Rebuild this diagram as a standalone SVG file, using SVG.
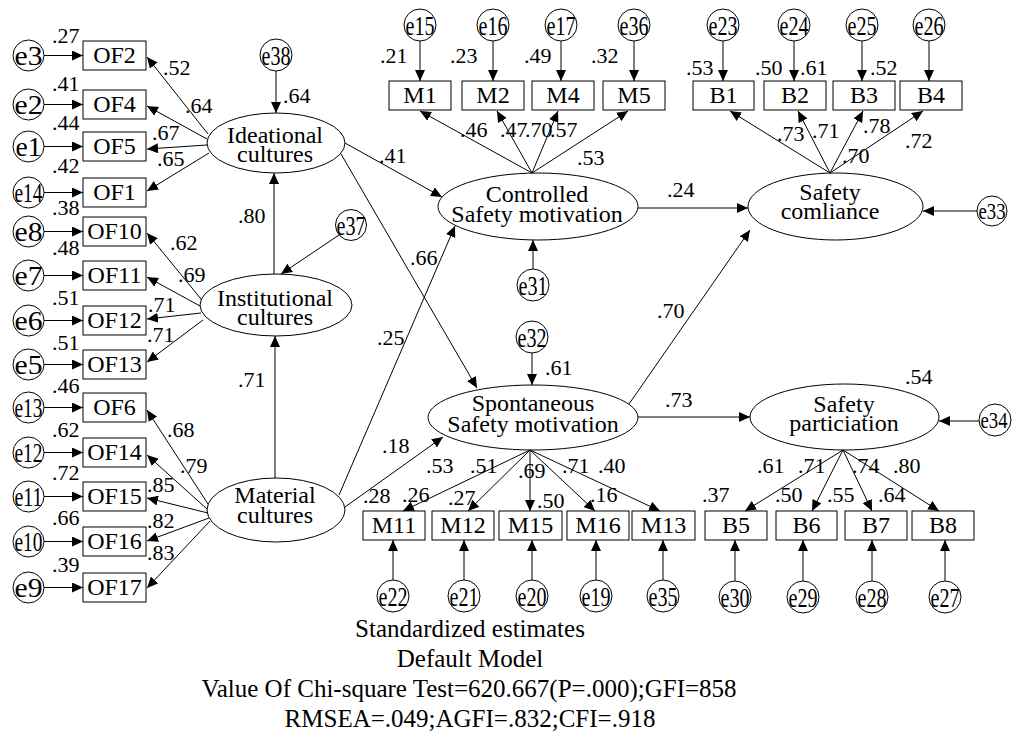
<svg xmlns="http://www.w3.org/2000/svg" width="1013" height="733" viewBox="0 0 1013 733" font-family="'Liberation Serif', 'Times New Roman', serif">
<style>
  .shape { fill: #fff; stroke: #000; stroke-width: 1; }
  .ln { fill: none; stroke: #000; stroke-width: 1; marker-end: url(#ah); }
  text { font-family: "Liberation Serif", "Times New Roman", serif; fill: #000; }
  .v { font-family: "Liberation Serif", "Times New Roman", serif; font-size: 24px; text-anchor: middle; }
  .e { font-family: "Liberation Serif", "Times New Roman", serif; font-size: 27px; text-anchor: middle; }
  .es { font-size: 23px; }
  .n text { font-family: "Liberation Serif", "Times New Roman", serif; font-size: 22px; }
  .cap { font-family: "Liberation Serif", "Times New Roman", serif; font-size: 25px; text-anchor: middle; }
</style>
<defs>
  <marker id="ah" markerWidth="11" markerHeight="10" refX="11" refY="5" orient="auto" markerUnits="userSpaceOnUse">
    <path d="M0,0 L11,5 L0,10 Z" fill="#000"/>
  </marker>
</defs>
<rect width="1013" height="733" fill="#fff"/>

<!-- latent variables -->
<g id="ideational"><ellipse class="shape" cx="276" cy="143" rx="69" ry="30"/><text class="v" x="275" y="143">Ideational</text><text class="v" x="275" y="162">cultures</text></g>
<g id="institutional"><ellipse class="shape" cx="276" cy="305" rx="76" ry="31"/><text class="v" x="275" y="306">Institutional</text><text class="v" x="275" y="325">cultures</text></g>
<g id="material"><ellipse class="shape" cx="276" cy="510" rx="69" ry="32"/><text class="v" x="275" y="503">Material</text><text class="v" x="275" y="523">cultures</text></g>
<g id="controlled"><ellipse class="shape" cx="538" cy="206.5" rx="100" ry="33.5"/><text class="v" x="537" y="202">Controlled</text><text class="v" x="537" y="222">Safety motivation</text></g>
<g id="spontaneous"><ellipse class="shape" cx="533" cy="417.5" rx="105" ry="32.5"/><text class="v" x="533" y="411">Spontaneous</text><text class="v" x="533" y="432">Safety motivation</text></g>
<g id="compliance"><ellipse class="shape" cx="835.5" cy="206.5" rx="87.5" ry="33.5"/><text class="v" x="830" y="200">Safety</text><text class="v" x="830" y="219">comliance</text></g>
<g id="participation"><ellipse class="shape" cx="844.5" cy="417" rx="94.5" ry="33"/><text class="v" x="844" y="412">Safety</text><text class="v" x="844" y="431">particiation</text></g>

<!-- observed indicators, left column -->
<g id="OF2"><rect class="shape" x="83" y="41" width="63" height="29"/><text class="v" x="114.5" y="63">OF2</text></g>
<g id="OF4"><rect class="shape" x="83" y="90" width="63" height="29"/><text class="v" x="114.5" y="112">OF4</text></g>
<g id="OF5"><rect class="shape" x="83" y="132" width="63" height="29"/><text class="v" x="114.5" y="154">OF5</text></g>
<g id="OF1"><rect class="shape" x="83" y="178" width="63" height="29"/><text class="v" x="114.5" y="200">OF1</text></g>
<g id="OF10"><rect class="shape" x="83" y="217" width="63" height="29"/><text class="v" x="114.5" y="239">OF10</text></g>
<g id="OF11"><rect class="shape" x="83" y="261" width="63" height="29"/><text class="v" x="114.5" y="283">OF11</text></g>
<g id="OF12"><rect class="shape" x="83" y="306" width="63" height="29"/><text class="v" x="114.5" y="328">OF12</text></g>
<g id="OF13"><rect class="shape" x="83" y="350" width="63" height="29"/><text class="v" x="114.5" y="372">OF13</text></g>
<g id="OF6"><rect class="shape" x="83" y="393" width="63" height="29"/><text class="v" x="114.5" y="415">OF6</text></g>
<g id="OF14"><rect class="shape" x="83" y="438" width="63" height="29"/><text class="v" x="114.5" y="460">OF14</text></g>
<g id="OF15"><rect class="shape" x="83" y="482" width="63" height="29"/><text class="v" x="114.5" y="504">OF15</text></g>
<g id="OF16"><rect class="shape" x="83" y="527" width="63" height="29"/><text class="v" x="114.5" y="549">OF16</text></g>
<g id="OF17"><rect class="shape" x="83" y="573" width="63" height="29"/><text class="v" x="114.5" y="595">OF17</text></g>

<!-- observed indicators, motivation -->
<g id="M1"><rect class="shape" x="389" y="81" width="62" height="29"/><text class="v" x="420" y="103">M1</text></g>
<g id="M2"><rect class="shape" x="462" y="81" width="62" height="29"/><text class="v" x="493" y="103">M2</text></g>
<g id="M4"><rect class="shape" x="532" y="81" width="62" height="29"/><text class="v" x="563" y="103">M4</text></g>
<g id="M5"><rect class="shape" x="603" y="81" width="62" height="29"/><text class="v" x="634" y="103">M5</text></g>
<g id="M11"><rect class="shape" x="363" y="511" width="62" height="29"/><text class="v" x="394" y="533">M11</text></g>
<g id="M12"><rect class="shape" x="432" y="511" width="62" height="29"/><text class="v" x="463" y="533">M12</text></g>
<g id="M15"><rect class="shape" x="499" y="511" width="63" height="29"/><text class="v" x="530.5" y="533">M15</text></g>
<g id="M16"><rect class="shape" x="567" y="511" width="62" height="29"/><text class="v" x="598" y="533">M16</text></g>
<g id="M13"><rect class="shape" x="632" y="511" width="63" height="29"/><text class="v" x="663.5" y="533">M13</text></g>

<!-- observed indicators, behaviour -->
<g id="B1"><rect class="shape" x="693" y="81" width="61" height="29"/><text class="v" x="723.5" y="103">B1</text></g>
<g id="B2"><rect class="shape" x="764" y="81" width="62" height="29"/><text class="v" x="795" y="103">B2</text></g>
<g id="B3"><rect class="shape" x="833" y="81" width="62" height="29"/><text class="v" x="864" y="103">B3</text></g>
<g id="B4"><rect class="shape" x="900" y="81" width="62" height="29"/><text class="v" x="931" y="103">B4</text></g>
<g id="B5"><rect class="shape" x="705" y="511" width="62" height="29"/><text class="v" x="736" y="533">B5</text></g>
<g id="B6"><rect class="shape" x="776" y="511" width="61" height="29"/><text class="v" x="806.5" y="533">B6</text></g>
<g id="B7"><rect class="shape" x="845" y="511" width="62" height="29"/><text class="v" x="876" y="533">B7</text></g>
<g id="B8"><rect class="shape" x="912" y="511" width="62" height="29"/><text class="v" x="943" y="533">B8</text></g>

<!-- error terms -->
<g id="e3"><circle class="shape" cx="28.5" cy="55.5" r="15.5"/><text class="e" x="28.5" y="65" textLength="28" lengthAdjust="spacingAndGlyphs">e3</text></g>
<g id="e2"><circle class="shape" cx="28.5" cy="104.5" r="15.5"/><text class="e" x="28.5" y="114" textLength="28" lengthAdjust="spacingAndGlyphs">e2</text></g>
<g id="e1"><circle class="shape" cx="28.5" cy="146.5" r="15.5"/><text class="e" x="28.5" y="156" textLength="26" lengthAdjust="spacingAndGlyphs">e1</text></g>
<g id="e14"><circle class="shape" cx="28.5" cy="192.5" r="15.5"/><text class="e" x="28.5" y="202" textLength="28" lengthAdjust="spacingAndGlyphs">e14</text></g>
<g id="e8"><circle class="shape" cx="28.5" cy="231.5" r="15.5"/><text class="e" x="28.5" y="241" textLength="28" lengthAdjust="spacingAndGlyphs">e8</text></g>
<g id="e7"><circle class="shape" cx="28.5" cy="275.5" r="15.5"/><text class="e" x="28.5" y="285" textLength="28" lengthAdjust="spacingAndGlyphs">e7</text></g>
<g id="e6"><circle class="shape" cx="28.5" cy="320.5" r="15.5"/><text class="e" x="28.5" y="330" textLength="28" lengthAdjust="spacingAndGlyphs">e6</text></g>
<g id="e5"><circle class="shape" cx="28.5" cy="364.5" r="15.5"/><text class="e" x="28.5" y="374" textLength="28" lengthAdjust="spacingAndGlyphs">e5</text></g>
<g id="e13"><circle class="shape" cx="28.5" cy="407.5" r="15.5"/><text class="e" x="28.5" y="417" textLength="28" lengthAdjust="spacingAndGlyphs">e13</text></g>
<g id="e12"><circle class="shape" cx="28.5" cy="452.5" r="15.5"/><text class="e" x="28.5" y="462" textLength="28" lengthAdjust="spacingAndGlyphs">e12</text></g>
<g id="e11"><circle class="shape" cx="28.5" cy="496.5" r="15.5"/><text class="e" x="28.5" y="506" textLength="28" lengthAdjust="spacingAndGlyphs">e11</text></g>
<g id="e10"><circle class="shape" cx="28.5" cy="541.5" r="15.5"/><text class="e" x="28.5" y="551" textLength="28" lengthAdjust="spacingAndGlyphs">e10</text></g>
<g id="e9"><circle class="shape" cx="28.5" cy="587.5" r="15.5"/><text class="e" x="28.5" y="597" textLength="28" lengthAdjust="spacingAndGlyphs">e9</text></g>
<g id="e38"><circle class="shape" cx="276" cy="55" r="16"/><text class="e" x="276" y="65" textLength="29" lengthAdjust="spacingAndGlyphs">e38</text></g>
<g id="e37"><circle class="shape" cx="351" cy="225" r="15.5"/><text class="e" x="351" y="235" textLength="29" lengthAdjust="spacingAndGlyphs">e37</text></g>
<g id="e15"><circle class="shape" cx="420" cy="25" r="16"/><text class="e" x="420" y="35" textLength="29" lengthAdjust="spacingAndGlyphs">e15</text></g>
<g id="e16"><circle class="shape" cx="493" cy="25" r="16"/><text class="e" x="493" y="35" textLength="29" lengthAdjust="spacingAndGlyphs">e16</text></g>
<g id="e17"><circle class="shape" cx="561" cy="25" r="16"/><text class="e" x="561" y="35" textLength="29" lengthAdjust="spacingAndGlyphs">e17</text></g>
<g id="e36"><circle class="shape" cx="634" cy="25" r="16"/><text class="e" x="634" y="35" textLength="29" lengthAdjust="spacingAndGlyphs">e36</text></g>
<g id="e23"><circle class="shape" cx="723" cy="25" r="16"/><text class="e" x="723" y="35" textLength="29" lengthAdjust="spacingAndGlyphs">e23</text></g>
<g id="e24"><circle class="shape" cx="794" cy="25" r="16"/><text class="e" x="794" y="35" textLength="29" lengthAdjust="spacingAndGlyphs">e24</text></g>
<g id="e25"><circle class="shape" cx="862" cy="25" r="16"/><text class="e" x="862" y="35" textLength="29" lengthAdjust="spacingAndGlyphs">e25</text></g>
<g id="e26"><circle class="shape" cx="929" cy="25" r="16"/><text class="e" x="929" y="35" textLength="29" lengthAdjust="spacingAndGlyphs">e26</text></g>
<g id="e31"><circle class="shape" cx="533" cy="285" r="16"/><text class="e" x="533" y="295" textLength="29" lengthAdjust="spacingAndGlyphs">e31</text></g>
<g id="e32"><circle class="shape" cx="532" cy="337" r="16"/><text class="e" x="532" y="347" textLength="29" lengthAdjust="spacingAndGlyphs">e32</text></g>
<g id="e33"><circle class="shape" cx="992" cy="211" r="15"/><text class="e es" x="992" y="219" textLength="27" lengthAdjust="spacingAndGlyphs">e33</text></g>
<g id="e34"><circle class="shape" cx="995" cy="420" r="16"/><text class="e es" x="994" y="428" textLength="27" lengthAdjust="spacingAndGlyphs">e34</text></g>
<g id="e22"><circle class="shape" cx="393" cy="596" r="16"/><text class="e" x="393" y="606" textLength="29" lengthAdjust="spacingAndGlyphs">e22</text></g>
<g id="e21"><circle class="shape" cx="464" cy="596" r="16"/><text class="e" x="464" y="606" textLength="29" lengthAdjust="spacingAndGlyphs">e21</text></g>
<g id="e20"><circle class="shape" cx="532" cy="596" r="16"/><text class="e" x="532" y="606" textLength="29" lengthAdjust="spacingAndGlyphs">e20</text></g>
<g id="e19"><circle class="shape" cx="596" cy="596" r="16"/><text class="e" x="596" y="606" textLength="29" lengthAdjust="spacingAndGlyphs">e19</text></g>
<g id="e35"><circle class="shape" cx="663" cy="596" r="16"/><text class="e" x="663" y="606" textLength="29" lengthAdjust="spacingAndGlyphs">e35</text></g>
<g id="e30"><circle class="shape" cx="735" cy="597" r="16"/><text class="e" x="735" y="607" textLength="29" lengthAdjust="spacingAndGlyphs">e30</text></g>
<g id="e29"><circle class="shape" cx="803" cy="597" r="16"/><text class="e" x="803" y="607" textLength="29" lengthAdjust="spacingAndGlyphs">e29</text></g>
<g id="e28"><circle class="shape" cx="872" cy="597" r="16"/><text class="e" x="872" y="607" textLength="29" lengthAdjust="spacingAndGlyphs">e28</text></g>
<g id="e27"><circle class="shape" cx="945" cy="597" r="16"/><text class="e" x="945" y="607" textLength="29" lengthAdjust="spacingAndGlyphs">e27</text></g>

<!-- paths -->
<g id="connectors">
  <!-- errors into left indicators -->
  <path class="ln" d="M44,55.5 H83"/>
  <path class="ln" d="M44,104.5 H83"/>
  <path class="ln" d="M44,146.5 H83"/>
  <path class="ln" d="M44,192.5 H83"/>
  <path class="ln" d="M44,231.5 H83"/>
  <path class="ln" d="M44,275.5 H83"/>
  <path class="ln" d="M44,320.5 H83"/>
  <path class="ln" d="M44,364.5 H83"/>
  <path class="ln" d="M44,407.5 H83"/>
  <path class="ln" d="M44,452.5 H83"/>
  <path class="ln" d="M44,496.5 H83"/>
  <path class="ln" d="M44,541.5 H83"/>
  <path class="ln" d="M44,587.5 H83"/>
  <!-- ideational loadings -->
  <path class="ln" d="M208,134 L147,57"/>
  <path class="ln" d="M207,139 L147,106"/>
  <path class="ln" d="M207,145 L147,149"/>
  <path class="ln" d="M209,153 L147,191"/>
  <!-- institutional loadings -->
  <path class="ln" d="M201,299 L147,233"/>
  <path class="ln" d="M200,306 L147,277"/>
  <path class="ln" d="M201,313 L147,319"/>
  <path class="ln" d="M203,320 L147,362"/>
  <!-- material loadings -->
  <path class="ln" d="M208,504 L147,410"/>
  <path class="ln" d="M207,509 L147,455"/>
  <path class="ln" d="M208,513 L147,498"/>
  <path class="ln" d="M209,518 L147,541"/>
  <path class="ln" d="M210,521 L147,588"/>
  <!-- structural paths -->
  <path class="ln" d="M276,71 V113"/>
  <path class="ln" d="M339,235 L281,274"/>
  <path class="ln" d="M274,274 V173"/>
  <path class="ln" d="M275,478 V336"/>
  <path class="ln" d="M345,143 L442,197"/>
  <path class="ln" d="M341,154 L477,388"/>
  <path class="ln" d="M339,495 L455,226"/>
  <path class="ln" d="M345,507 L443,437"/>
  <path class="ln" d="M638,208 H748"/>
  <path class="ln" d="M629,404 L750,230"/>
  <path class="ln" d="M638,417 H750"/>
  <path class="ln" d="M533,269 V240"/>
  <path class="ln" d="M532,353 V385"/>
  <path class="ln" d="M977,211 H923"/>
  <path class="ln" d="M979,421 H939"/>
  <!-- controlled motivation indicators -->
  <path class="ln" d="M420,41 V81"/>
  <path class="ln" d="M493,41 V81"/>
  <path class="ln" d="M561,41 V81"/>
  <path class="ln" d="M634,41 V81"/>
  <path class="ln" d="M532,173 L420,111"/>
  <path class="ln" d="M532,173 L497,111"/>
  <path class="ln" d="M532,173 L558,111"/>
  <path class="ln" d="M532,173 L628,111"/>
  <!-- compliance indicators -->
  <path class="ln" d="M723,41 V81"/>
  <path class="ln" d="M794,41 V81"/>
  <path class="ln" d="M862,41 V81"/>
  <path class="ln" d="M929,41 V81"/>
  <path class="ln" d="M830,173 L730,111"/>
  <path class="ln" d="M830,173 L798,111"/>
  <path class="ln" d="M830,173 L863,111"/>
  <path class="ln" d="M830,173 L923,111"/>
  <!-- spontaneous motivation indicators -->
  <path class="ln" d="M530,450 L403,511"/>
  <path class="ln" d="M530,450 L468,511"/>
  <path class="ln" d="M530,450 V511"/>
  <path class="ln" d="M530,450 L595,511"/>
  <path class="ln" d="M530,450 L660,511"/>
  <path class="ln" d="M393,580 V540"/>
  <path class="ln" d="M464,580 V540"/>
  <path class="ln" d="M532,580 V540"/>
  <path class="ln" d="M596,580 V540"/>
  <path class="ln" d="M663,580 V540"/>
  <!-- participation indicators -->
  <path class="ln" d="M843,450 L745,511"/>
  <path class="ln" d="M843,450 L812,511"/>
  <path class="ln" d="M843,450 L872,511"/>
  <path class="ln" d="M843,450 L939,511"/>
  <path class="ln" d="M735,581 V540"/>
  <path class="ln" d="M803,581 V540"/>
  <path class="ln" d="M872,581 V540"/>
  <path class="ln" d="M945,581 V540"/>
</g>

<!-- estimates -->
<g id="estimates" class="n">
  <text x="52" y="43">.27</text>
  <text x="52" y="91">.41</text>
  <text x="52" y="130">.44</text>
  <text x="52" y="173">.42</text>
  <text x="52" y="215">.38</text>
  <text x="52" y="255">.48</text>
  <text x="52" y="305">.51</text>
  <text x="52" y="350">.51</text>
  <text x="52" y="393">.46</text>
  <text x="52" y="437">.62</text>
  <text x="52" y="480">.72</text>
  <text x="52" y="525">.66</text>
  <text x="52" y="572">.39</text>
  <text x="163" y="75">.52</text>
  <text x="185" y="113">.64</text>
  <text x="152" y="140">.67</text>
  <text x="157" y="166">.65</text>
  <text x="170" y="250">.62</text>
  <text x="178" y="282">.69</text>
  <text x="148" y="312">.71</text>
  <text x="147" y="342">.71</text>
  <text x="167" y="437">.68</text>
  <text x="180" y="473">.79</text>
  <text x="147" y="492">.85</text>
  <text x="147" y="528">.82</text>
  <text x="147" y="560">.83</text>
  <text x="283" y="103">.64</text>
  <text x="238" y="223">.80</text>
  <text x="238" y="387">.71</text>
  <text x="379" y="163">.41</text>
  <text x="410" y="265">.66</text>
  <text x="377" y="345">.25</text>
  <text x="382" y="453">.18</text>
  <text x="667" y="197">.24</text>
  <text x="657" y="318">.70</text>
  <text x="665" y="407">.73</text>
  <text x="545" y="375">.61</text>
  <text x="905" y="384">.54</text>
  <text x="380" y="63">.21</text>
  <text x="450" y="63">.23</text>
  <text x="524" y="63">.49</text>
  <text x="591" y="63">.32</text>
  <text x="460" y="137">.46</text>
  <text x="500" y="137">.47</text>
  <text x="525" y="137">.70</text>
  <text x="550" y="137">.57</text>
  <text x="577" y="165">.53</text>
  <text x="686" y="75">.53</text>
  <text x="755" y="75">.50</text>
  <text x="800" y="75">.61</text>
  <text x="870" y="75">.52</text>
  <text x="777" y="141">.73</text>
  <text x="812" y="138">.71</text>
  <text x="863" y="133">.78</text>
  <text x="905" y="148">.72</text>
  <text x="842" y="163">.70</text>
  <text x="426" y="473">.53</text>
  <text x="470" y="473">.51</text>
  <text x="518" y="478">.69</text>
  <text x="562" y="473">.71</text>
  <text x="598" y="473">.40</text>
  <text x="363" y="503">.28</text>
  <text x="402" y="502">.26</text>
  <text x="448" y="505">.27</text>
  <text x="537" y="508">.50</text>
  <text x="590" y="502">.16</text>
  <text x="757" y="473">.61</text>
  <text x="798" y="473">.71</text>
  <text x="852" y="473">.74</text>
  <text x="893" y="473">.80</text>
  <text x="702" y="502">.37</text>
  <text x="775" y="502">.50</text>
  <text x="827" y="502">.55</text>
  <text x="878" y="502">.64</text>
</g>

<!-- model summary -->
<g id="summary">
  <text class="cap" x="470" y="637">Standardized estimates</text>
  <text class="cap" x="470" y="667">Default Model</text>
  <text class="cap" x="469" y="697">Value Of Chi-square Test=620.667(P=.000);GFI=858</text>
  <text class="cap" x="470" y="727">RMSEA=.049;AGFI=.832;CFI=.918</text>
</g>
</svg>
